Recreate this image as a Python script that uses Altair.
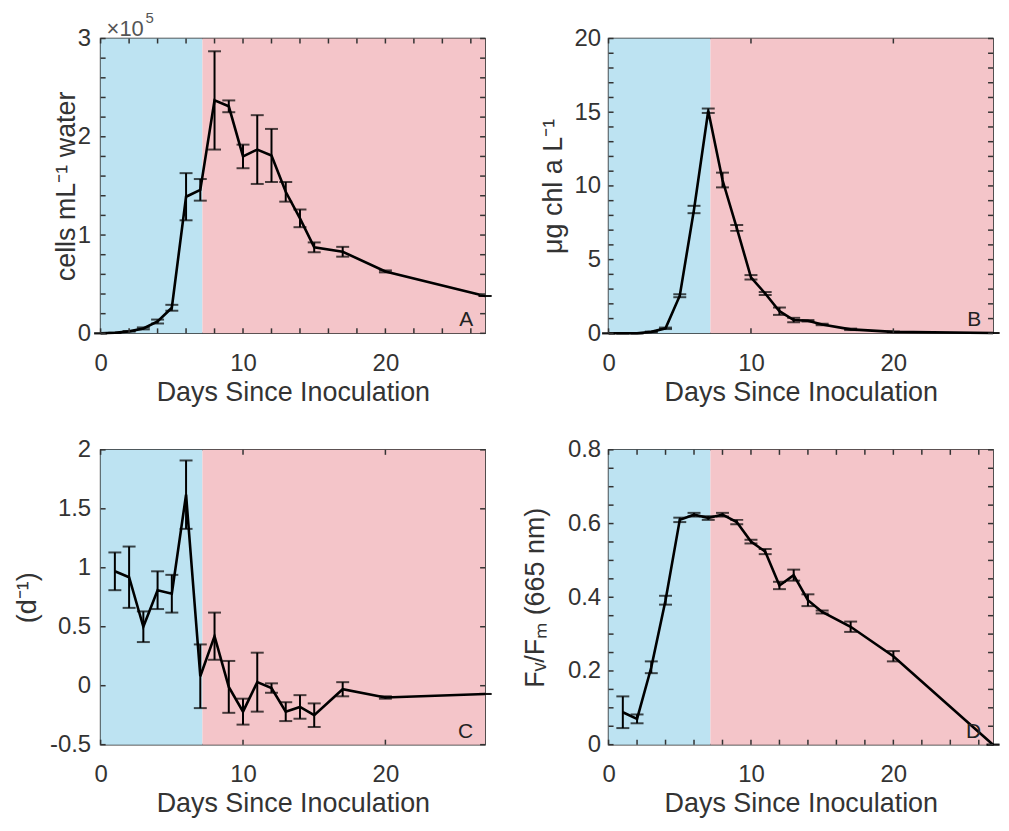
import altair as alt
import pandas as pd

# ---------------- data ----------------
days_ab = [0, 1, 2, 3, 4, 5, 6, 7, 8, 9, 10, 11, 12, 13, 14, 15, 17, 20, 27]
cells = [0.0, 0.005, 0.02, 0.05, 0.12, 0.26, 1.39, 1.46, 2.37, 2.31, 1.80, 1.87, 1.81, 1.44, 1.17, 0.875, 0.83, 0.63, 0.38]
cells_err = [0.0, 0.0, 0.0, 0.01, 0.02, 0.03, 0.24, 0.11, 0.50, 0.06, 0.12, 0.35, 0.27, 0.10, 0.09, 0.05, 0.05, 0.01, 0.0]

chl = [0.0, 0.0, 0.0, 0.1, 0.34, 2.55, 8.4, 15.1, 10.4, 7.15, 3.8, 2.7, 1.5, 0.9, 0.85, 0.6, 0.27, 0.1, 0.02]
chl_err = [0.0, 0.0, 0.0, 0.02, 0.05, 0.1, 0.25, 0.15, 0.5, 0.2, 0.15, 0.1, 0.25, 0.15, 0.05, 0.05, 0.05, 0.02, 0.0]

days_cd = [1, 2, 3, 4, 5, 6, 7, 8, 9, 10, 11, 12, 13, 14, 15, 17, 20, 27]
growth = [0.97, 0.92, 0.50, 0.81, 0.78, 1.62, 0.08, 0.42, -0.01, -0.22, 0.03, -0.02, -0.22, -0.18, -0.25, -0.03, -0.10, -0.07]
growth_err = [0.16, 0.26, 0.13, 0.16, 0.16, 0.29, 0.27, 0.20, 0.22, 0.11, 0.25, 0.04, 0.08, 0.10, 0.10, 0.06, 0.01, 0.0]

fvfm = [0.088, 0.07, 0.21, 0.392, 0.61, 0.624, 0.615, 0.624, 0.604, 0.551, 0.524, 0.432, 0.46, 0.392, 0.36, 0.32, 0.24, 0.0]
fvfm_err = [0.043, 0.012, 0.016, 0.012, 0.006, 0.005, 0.005, 0.005, 0.006, 0.005, 0.007, 0.01, 0.015, 0.016, 0.004, 0.014, 0.014, 0.0]

phase_names = ["growth", "decline"]
phase_start = [0, 7.15]
phase_end = [7.15, 27]

x_ticks_fine = [0, 2, 4, 6, 8, 10, 12, 14, 16, 18, 20, 22, 24, 26]
x_ticks_major = [0, 10, 20]
a_y_ticks = [0, 0.2, 0.4, 0.6, 0.8, 1, 1.2, 1.4, 1.6, 1.8, 2, 2.2, 2.4, 2.6, 2.8, 3]
b_y_ticks = list(range(0, 21))
c_y_ticks = [-0.5, 0, 0.5, 1, 1.5, 2]
d_y_ticks = [0, 0.05, 0.1, 0.15, 0.2, 0.25, 0.3, 0.35, 0.4, 0.45, 0.5, 0.55, 0.6, 0.65, 0.7, 0.75, 0.8]

# ---------------- styling ----------------
W, H = 386, 296
BLUE = "#bde3f2"
PINK = "#f4c5c9"
FONT = "Liberation Sans"
TXT = "#333333"
TICKC = "#333333"
TL = 5  # inward tick length (px)

phase_df = pd.DataFrame({"phase": phase_names, "start": phase_start, "end": phase_end})

XLAB_10 = "datum.value % 10 === 0 ? format(datum.value, 'd') : ''"


def panel(days, vals, errs, ydom, xvals, yvals, ytitle, ylab_expr, letter,
          ytitle_x, ylab_pad, extra=None):
    df = pd.DataFrame({"day": days, "val": vals, "err": errs})
    df["lo"] = df["val"] - df["err"]
    df["hi"] = df["val"] + df["err"]
    xt = pd.DataFrame({"t": xvals})
    yt = pd.DataFrame({"t": yvals})
    xs = alt.Scale(domain=[0, 27], nice=False, zero=False)
    ys = alt.Scale(domain=ydom, nice=False, zero=False)

    bg = alt.Chart(phase_df).mark_rect().encode(
        x=alt.X("start:Q", scale=xs, axis=None),
        x2="end:Q",
        color=alt.Color("phase:N", scale=alt.Scale(domain=phase_names, range=[BLUE, PINK]), legend=None),
    )

    line = alt.Chart(df).mark_line(color="black", strokeWidth=2.6).encode(
        x=alt.X("day:Q", scale=xs, axis=alt.Axis(
            orient="bottom", values=xvals, labelExpr=XLAB_10, title="Days Since Inoculation",
            ticks=False, domain=False, labelPadding=18, titleBaseline="alphabetic", titleY=67,
            labelOverlap=False, labelFlush=False, grid=False)),
        y=alt.Y("val:Q", scale=ys, axis=alt.Axis(
            orient="left", values=yvals, labelExpr=ylab_expr, title=ytitle,
            ticks=False, domain=False, labelPadding=ylab_pad, titleBaseline="middle",
            titleX=ytitle_x, titleY=H / 2, labelOverlap=False, labelFlush=False, grid=False)),
    )

    eb = alt.Chart(df).mark_errorbar(ticks=True, size=13, thickness=2, color="black").encode(
        x=alt.X("day:Q", scale=xs, axis=None),
        y=alt.Y("lo:Q", scale=ys, axis=None),
        y2="hi:Q",
    )

    # inward axis ticks on all four sides (MATLAB box style)
    tb = alt.Chart(xt).mark_rule(color=TICKC, strokeWidth=1.5).encode(
        x=alt.X("t:Q", scale=xs, axis=None), y=alt.value(H), y2=alt.value(H - TL))
    tt = alt.Chart(xt).mark_rule(color=TICKC, strokeWidth=1.5).encode(
        x=alt.X("t:Q", scale=xs, axis=None), y=alt.value(0), y2=alt.value(TL))
    tl = alt.Chart(yt).mark_rule(color=TICKC, strokeWidth=1.5).encode(
        y=alt.Y("t:Q", scale=ys, axis=None), x=alt.value(0), x2=alt.value(TL))
    tr = alt.Chart(yt).mark_rule(color=TICKC, strokeWidth=1.5).encode(
        y=alt.Y("t:Q", scale=ys, axis=None), x=alt.value(W), x2=alt.value(W - TL))

    lab = alt.Chart(pd.DataFrame({"t": [letter]})).mark_text(
        align="right", baseline="alphabetic", fontSize=21, font=FONT, color="#222222"
    ).encode(text="t:N", x=alt.value(W - 12), y=alt.value(H - 7))

    layers = [bg, line, eb, tb, tt, tl, tr, lab]
    if extra is not None:
        layers += extra
    return alt.layer(*layers).resolve_axis(x="independent", y="independent").properties(width=W, height=H)


# "x10^5" exponent annotation above panel A
exp_base = alt.Chart(pd.DataFrame({"t": ["×10"]})).mark_text(
    align="left", baseline="alphabetic", fontSize=22, font=FONT, color="#555555"
).encode(text="t:N", x=alt.value(6), y=alt.value(-3))
exp_pow = alt.Chart(pd.DataFrame({"t": ["5"]})).mark_text(
    align="left", baseline="alphabetic", fontSize=15, font=FONT, color="#555555"
).encode(text="t:N", x=alt.value(45), y=alt.value(-16))

pA = panel(days_ab, cells, cells_err, [0, 3], x_ticks_fine, a_y_ticks, "cells mL⁻¹ water",
           "abs(datum.value - round(datum.value)) < 0.001 ? format(datum.value, '~g') : ''",
           "A", -34, 10, extra=[exp_base, exp_pow])
pB = panel(days_ab, chl, chl_err, [0, 20], x_ticks_major, b_y_ticks, "μg chl a L⁻¹",
           "datum.value % 5 === 0 ? format(datum.value, 'd') : ''", "B", -55, 8)
pC = panel(days_cd, growth, growth_err, [-0.5, 2], x_ticks_major, c_y_ticks, "(d⁻¹)",
           "replace(format(datum.value, '~g'), '\u2212', '-')", "C", -73, 10)
pD = panel(days_cd, fvfm, fvfm_err, [0, 0.8], x_ticks_fine, d_y_ticks, "Fᵥ/Fₘ (665 nm)",
           "abs(datum.value * 5 - round(datum.value * 5)) < 0.001 ? format(datum.value, '~g') : ''",
           "D", -73, 8)

chart = alt.concat(pA, pB, pC, pD, columns=2, spacing={"row": 117, "column": 124},
                   bounds="flush").configure_view(
    stroke="#2a2a2a", strokeWidth=1.6
).configure_axis(
    labelFont=FONT, titleFont=FONT, labelFontSize=24, titleFontSize=27,
    labelColor=TXT, titleColor=TXT, titleFontWeight="normal", minExtent=0
).properties(background="white", padding={"left": 5, "top": 0, "right": 0, "bottom": 0})

chart.save("out.html", embed_options={"renderer": "svg", "actions": False})
